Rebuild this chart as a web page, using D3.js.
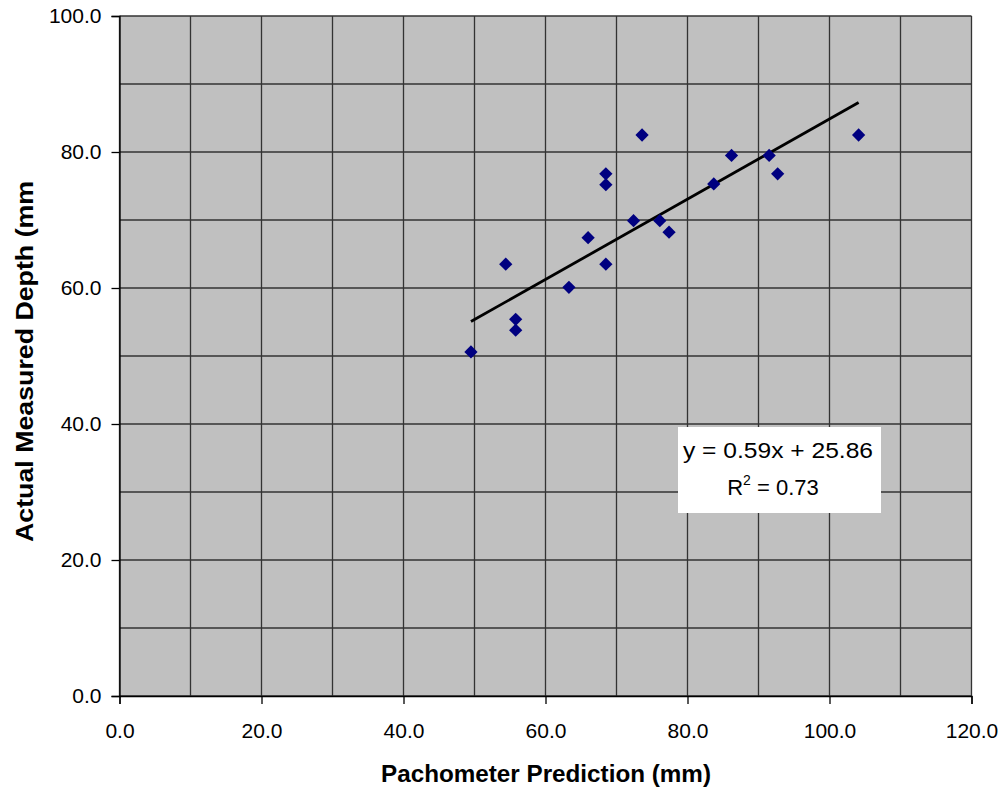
<!DOCTYPE html>
<html lang="en">
<head>
<meta charset="utf-8">
<title>Pachometer Prediction vs Actual Measured Depth</title>
<script src="https://d3js.org/d3.v7.min.js"></script>
<style type="text/css">
  body { margin: 0; background: #fff; }
  text { font-family: Arial, "Liberation Sans", sans-serif; fill: #000; }
</style>
</head>
<body>
<script type="text/javascript">
// data
var predicted = [49.5, 54.4, 55.8, 55.8, 63.3, 66.0, 68.5, 68.5, 68.5, 72.4, 73.6, 76.1, 77.4, 83.7, 86.2, 91.5, 92.7, 104.1];
var measured  = [50.6, 63.5, 55.4, 53.8, 60.1, 67.4, 63.5, 75.2, 76.8, 69.9, 82.5, 69.9, 68.2, 75.3, 79.5, 79.5, 76.8, 82.5];
var slope = 0.59, intercept = 25.86, rSquared = 0.73;
var xTicks = [0, 20, 40, 60, 80, 100, 120];
var yTicks = [0, 20, 40, 60, 80, 100];
var xGrid = d3.range(0, 121, 10);
var yGrid = d3.range(0, 101, 10);

var w = 1002, h = 789;

var x = d3.scaleLinear().domain([0, 120]).range([119.5, 971.5]);
var y = d3.scaleLinear().domain([0, 100]).range([696, 16]);
var fmt = d3.format(".1f");

var svg = d3.select("body").append("svg")
  .attr("width", w)
  .attr("height", h);

// plot area
svg.append("rect")
  .attr("x", x(0)).attr("y", y(100))
  .attr("width", x(120) - x(0)).attr("height", y(0) - y(100))
  .style("fill", "#c0c0c0");

// gridlines
svg.append("g").selectAll("line")
  .data(xGrid).enter().append("line")
  .attr("x1", function(d) { return x(d); }).attr("x2", function(d) { return x(d); })
  .attr("y1", y(0)).attr("y2", y(100))
  .style("stroke", "#333").style("stroke-width", 1.3);

svg.append("g").selectAll("line")
  .data(yGrid).enter().append("line")
  .attr("y1", function(d) { return y(d); }).attr("y2", function(d) { return y(d); })
  .attr("x1", x(0)).attr("x2", x(120))
  .style("stroke", "#333").style("stroke-width", 1.3);

// axes
var xAxis = svg.append("g")
  .attr("transform", "translate(0," + y(0) + ")")
  .call(d3.axisBottom(x).tickValues(xTicks).tickFormat(fmt).tickSize(8).tickPadding(19));

var yAxis = svg.append("g")
  .attr("transform", "translate(" + x(0) + ",0)")
  .call(d3.axisLeft(y).tickValues(yTicks).tickFormat(fmt).tickSize(8).tickPadding(10));

[xAxis, yAxis].forEach(function(a) {
  a.select(".domain").style("stroke", "#000").style("stroke-width", 1.3);
  a.selectAll(".tick line").style("stroke", "#000").style("stroke-width", 1.3);
  a.selectAll(".tick text").style("font-size", "21px").style("font-family", "Arial, 'Liberation Sans', sans-serif");
});

// trend line
var xMin = d3.min(predicted), xMax = d3.max(predicted);
svg.append("line")
  .attr("x1", x(xMin)).attr("y1", y(slope * xMin + intercept))
  .attr("x2", x(xMax)).attr("y2", y(slope * xMax + intercept))
  .style("stroke", "#000").style("stroke-width", 2.8);

// points
var pts = predicted.map(function(d, i) { return [d, measured[i]]; });
svg.append("g").selectAll("path")
  .data(pts).enter().append("path")
  .attr("d", d3.symbol().type(d3.symbolSquare).size(88))
  .attr("transform", function(d) { return "translate(" + x(d[0]) + "," + y(d[1]) + ") rotate(45)"; })
  .style("fill", "#000080");

// equation label
svg.append("rect")
  .attr("x", 678).attr("y", 427).attr("width", 203).attr("height", 86)
  .style("fill", "#fff");

svg.append("text")
  .attr("x", 778).attr("y", 458)
  .attr("text-anchor", "middle")
  .attr("textLength", 190).attr("lengthAdjust", "spacingAndGlyphs")
  .style("font-size", "22px")
  .text("y = " + slope + "x + " + intercept);

var r2 = svg.append("text")
  .attr("x", 773).attr("y", 495)
  .attr("text-anchor", "middle")
  .style("font-size", "22px");
r2.append("tspan").text("R");
r2.append("tspan").attr("dy", -10).style("font-size", "14px").text("2");
r2.append("tspan").attr("dy", 10).text(" = " + rSquared);

// axis titles
svg.append("text")
  .attr("x", 546).attr("y", 782)
  .attr("text-anchor", "middle")
  .attr("textLength", 330).attr("lengthAdjust", "spacingAndGlyphs")
  .style("font-size", "23px").style("font-weight", "bold")
  .text("Pachometer Prediction (mm)");

svg.append("clipPath").attr("id", "ytclip")
  .append("rect").attr("x", 0).attr("y", 182).attr("width", 60).attr("height", 500);

svg.append("g").attr("clip-path", "url(#ytclip)")
  .append("text")
  .attr("transform", "translate(33,357) rotate(-90)")
  .attr("text-anchor", "middle")
  .attr("textLength", 370).attr("lengthAdjust", "spacingAndGlyphs")
  .style("font-size", "23px").style("font-weight", "bold")
  .text("Actual Measured Depth (mm)");
</script>
</body>
</html>
